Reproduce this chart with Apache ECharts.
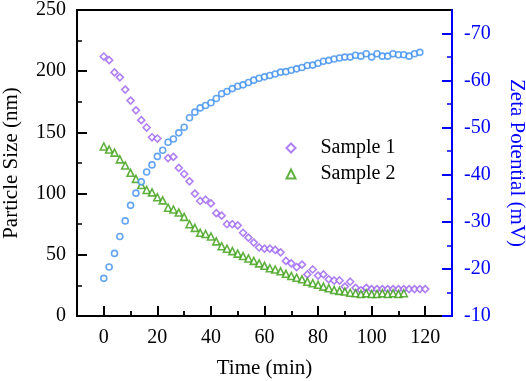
<!DOCTYPE html>
<html>
<head>
<meta charset="utf-8">
<script src="https://cdn.jsdelivr.net/npm/echarts@6/dist/echarts.min.js"></script>
<style>
  html, body { margin: 0; padding: 0; background: #fff; }
  #chart { width: 526px; height: 381px; }
</style>
</head>
<body>
<div id="chart"></div>
<script>
// time (min) for each series
var timeS1 = [0, 2, 4, 6, 8, 10, 12, 14, 16, 18, 20, 24, 26, 28, 30, 32, 34, 36, 38, 40,
  42, 44, 46, 48, 50, 52, 54, 56, 58, 60, 62, 64, 66, 68, 70, 72, 74, 76, 78, 80,
  82, 84, 86, 88, 90, 92, 94, 96, 98, 100, 102, 104, 106, 108, 110, 112, 114, 116, 118, 120]
var size1 = [212, 209, 199, 195, 185, 176, 168, 160, 154, 146, 145, 129, 130, 121, 116, 110, 100, 94, 95, 92,
  84, 82, 75, 75, 74, 68, 64, 60, 56, 55, 55, 54, 52, 45, 43, 40, 42, 34, 38, 33,
  34, 30, 29, 29, 24, 28, 23, 21, 23, 22, 22, 22, 22, 22, 22, 22, 22, 22, 22, 22]

var timeS2 = [0, 2, 4, 6, 8, 10, 12, 14, 16, 18, 20, 22, 24, 26, 28, 30, 32, 34, 36, 38, 40,
  42, 44, 46, 48, 50, 52, 54, 56, 58, 60, 62, 64, 66, 68, 70, 72, 74, 76, 78, 80,
  82, 84, 86, 88, 90, 92, 94, 96, 98, 100, 102, 104, 106, 108, 110, 112]
var size2 = [138.5, 136, 133.5, 128, 123, 117, 112, 107, 103, 101, 97, 94.5, 88.5, 87, 84.5, 81, 75, 72, 68, 67, 65,
  61, 57, 55, 53, 51, 49, 47, 45, 43, 41, 39, 38, 36.5, 34.5, 32.7, 31.3, 30, 28, 26.8, 25.5,
  24, 22.7, 21.3, 20.5, 20, 19, 18.6, 18, 18.6, 18, 18, 18.6, 18, 18.6, 18, 18.6]

var timeZeta = [0, 2, 4, 6, 8, 10, 12, 14, 16, 18, 20, 22, 24, 26, 28, 30, 32, 34, 36, 38,
  40, 42, 44, 46, 48, 50, 52, 54, 56, 58, 60, 62, 64, 66, 68, 70, 72, 74, 76, 78,
  80, 82, 84, 86, 88, 90, 92, 94, 96, 98, 100, 102, 104, 106, 108, 110, 112, 114, 116, 118]
var zeta = [-18, -20.4, -23.3, -26.9, -30.2, -33.5, -36.1, -38.5, -40.6, -42.1, -43.9, -45.2, -46.9, -47.6, -48.9, -50.1, -52.1, -53.3, -54.2, -54.7,
  -55.3, -56.2, -57.2, -57.7, -58.3, -58.8, -59.1, -59.6, -60.1, -60.5, -60.8, -61.1, -61.4, -61.8, -61.9, -62.2, -62.5, -62.8, -63.2, -63.3,
  -63.7, -64.1, -64.3, -64.6, -64.8, -65, -65, -65.4, -65.2, -65.7, -65, -65.7, -65.2, -65.2, -65.7, -65.5, -65.5, -65.2, -65.7, -66]

// time axis tick positions
var timeMajor = [0, 20, 40, 60, 80, 100, 120]
var timeMinor = [10, 30, 50, 70, 90, 110]

var chart = echarts.init(document.getElementById('chart'))

var font = 'Liberation Serif'
var blue = '#0000ff'
var purple = '#9b62f0'
var green = '#3a9e12'
var cyan = '#3b8ff0'

// frame box: x -10..130, left 0..250, right -75..-10
var L = 77, R = 74, T = 10, B = 65
var W = 526 - L - R, H = 381 - T - B
var xPad = 10 * W / 140   // data box starts at x = 0
var yPad = 5 * H / 65     // right ticks start at -70

var pairs = function (xs, ys) {
  return xs.map(function (x, i) { return [x, ys[i]] })
}
var txt = function (size, color) {
  return { fontFamily: font, fontSize: size, color: color || '#000' }
}
var hidden = function (grid, min, max, inverse) {
  return { gridIndex: grid, type: 'value', show: false, min: min, max: max, inverse: !!inverse }
}
// x ticks drawn as short marker lines standing on the time axis (len in px)
var tickMarks = function (vals, len, width) {
  return vals.map(function (t) {
    return [{ coord: [t, 0], lineStyle: { width: width } }, { coord: [t, len * 250 / H] }]
  })
}

chart.setOption({
  animation: false,
  grid: [
    // frame
    { left: L, right: R, top: T, bottom: B, outerBoundsMode: 'none',
      show: true, borderColor: '#000', borderWidth: 2, backgroundColor: 'transparent' },
    // data, x = 0..120
    { left: L + xPad, right: R + xPad, top: T, bottom: B, outerBoundsMode: 'none' },
    // right axis ticks, -70..-10
    { left: L, right: R, top: T + yPad, bottom: B, outerBoundsMode: 'none' }
  ],
  legend: {
    data: ['Sample 1', 'Sample 2'],
    orient: 'vertical',
    left: 280.5,
    top: 133,
    itemWidth: 9,
    itemHeight: 9,
    itemGap: 6,
    textStyle: Object.assign({ padding: [0, 0, 0, 20] }, txt(20))
  },
  xAxis: [
    hidden(0, -10, 130),
    {
      gridIndex: 1, type: 'value', min: 0, max: 120, interval: 20,
      axisLine: { show: false, onZero: false },
      axisTick: { show: true, inside: true, length: 10, lineStyle: { color: '#000', width: 2 } },
      minorTick: { show: true, splitNumber: 2, length: 5, lineStyle: { color: '#000', width: 1.5 } },
      axisLabel: Object.assign({ margin: 12 }, txt(20)),
      splitLine: { show: false },
      name: 'Time (min)', nameLocation: 'middle', nameGap: 42,
      nameTextStyle: txt(21)
    },
    hidden(2, 0, 1)
  ],
  yAxis: [
    {
      gridIndex: 0, type: 'value', min: 0, max: 250, interval: 50, position: 'left',
      axisLine: { onZero: false, lineStyle: { color: '#000', width: 2 } },
      axisTick: { show: true, inside: true, length: 10, lineStyle: { color: '#000', width: 2 } },
      minorTick: { show: true, splitNumber: 2, length: 5, lineStyle: { color: '#000', width: 1.5 } },
      axisLabel: Object.assign({ margin: 11 }, txt(20)),
      splitLine: { show: false },
      name: 'Particle Size (nm)', nameLocation: 'middle', nameGap: 55,
      nameTextStyle: txt(21)
    },
    {
      gridIndex: 0, type: 'value', min: -75, max: -10, inverse: true, position: 'right',
      axisLine: { onZero: false, lineStyle: { color: blue, width: 2 } },
      axisTick: { show: false }, axisLabel: { show: false }, splitLine: { show: false },
      name: 'Zeta Potential (mV)', nameLocation: 'middle', nameRotate: -90, nameGap: 54,
      nameTextStyle: txt(21, blue)
    },
    hidden(1, 0, 250),
    hidden(1, -75, -10, true),
    {
      gridIndex: 2, type: 'value', min: -70, max: -10, interval: 10, inverse: true, position: 'right',
      axisLine: { show: false, onZero: false },
      axisTick: { show: true, inside: true, length: 10, lineStyle: { color: blue, width: 2 } },
      minorTick: { show: true, splitNumber: 2, length: 5, lineStyle: { color: blue, width: 1.5 } },
      axisLabel: Object.assign({ margin: 12 }, txt(20, blue)),
      splitLine: { show: false }
    }
  ],
  series: [
    {
      name: 'Sample 1', type: 'scatter', xAxisIndex: 1, yAxisIndex: 2, clip: false,
      symbol: 'diamond', symbolSize: 7,
      itemStyle: { color: '#fff', borderColor: purple, borderWidth: 1.6 },
      data: pairs(timeS1, size1),
      markLine: {
        silent: true,
        animation: false,
        symbol: ['none', 'none'],
        label: { show: false },
        emphasis: { disabled: true },
        lineStyle: { color: '#000', type: 'solid', width: 2 },
        data: tickMarks(timeMajor, 10, 2).concat(tickMarks(timeMinor, 5, 1.5))
      }
    },
    {
      name: 'Sample 2', type: 'scatter', xAxisIndex: 1, yAxisIndex: 2, clip: false,
      symbol: 'triangle', symbolSize: 7,
      itemStyle: { color: '#fff', borderColor: green, borderWidth: 1.6 },
      data: pairs(timeS2, size2)
    },
    {
      name: 'Zeta Potential', type: 'scatter', xAxisIndex: 1, yAxisIndex: 3, clip: false,
      symbol: 'circle', symbolSize: 6,
      itemStyle: { color: '#fff', borderColor: cyan, borderWidth: 1.6 },
      data: pairs(timeZeta, zeta)
    }
  ]
})
</script>
</body>
</html>
